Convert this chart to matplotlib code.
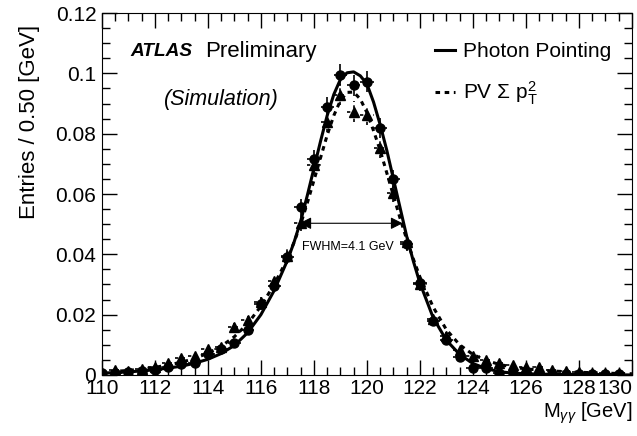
import matplotlib.pyplot as plt
from matplotlib.ticker import MultipleLocator

plt.rcParams['font.family'] = ['Liberation Sans', 'DejaVu Sans']
plt.rcParams['mathtext.fontset'] = 'custom'
plt.rcParams['mathtext.rm'] = 'Liberation Sans'
plt.rcParams['mathtext.it'] = 'Liberation Sans:italic'

# bin centres [GeV]
mass = [110.0, 110.5, 111.0, 111.5, 112.0, 112.5, 113.0, 113.5, 114.0, 114.5,
        115.0, 115.5, 116.0, 116.5, 117.0, 117.5, 118.0, 118.5, 119.0, 119.5,
        120.0, 120.5, 121.0, 121.5, 122.0, 122.5, 123.0, 123.5, 124.0, 124.5,
        125.0, 125.5, 126.0, 126.5, 127.0, 127.5, 128.0, 128.5, 129.0, 129.5]

# Photon Pointing (circles)
pp_vals = [0.0006, 0.0008, 0.0011, 0.0014, 0.0018, 0.0025, 0.0035, 0.0041, 0.0068, 0.0085,
           0.0105, 0.0150, 0.0235, 0.0295, 0.0390, 0.0558, 0.0716, 0.0889, 0.0994, 0.0961,
           0.0972, 0.0818, 0.0650, 0.0435, 0.0304, 0.0178, 0.0116, 0.0060, 0.0022, 0.0022,
           0.0008, 0.0005, 0.0004, 0.0004, 0.0004, 0.0003, 0.0003, 0.0002, 0.0003, 0.0003]
pp_err = [0.0003, 0.0004, 0.0004, 0.0005, 0.0005, 0.0006, 0.0007, 0.0008, 0.0010, 0.0011,
          0.0012, 0.0014, 0.0018, 0.0020, 0.0023, 0.0027, 0.0031, 0.0034, 0.0036, 0.0035,
          0.0035, 0.0033, 0.0029, 0.0024, 0.0020, 0.0016, 0.0012, 0.0009, 0.0006, 0.0006,
          0.0004, 0.0003, 0.0003, 0.0003, 0.0003, 0.0002, 0.0002, 0.0002, 0.0002, 0.0002]

# PV sum pT^2 (triangles)
pv_vals = [0.0008, 0.0017, 0.0014, 0.0019, 0.0028, 0.0039, 0.0055, 0.0063, 0.0085, 0.0094,
           0.0158, 0.0182, 0.0243, 0.0310, 0.0395, 0.0505, 0.0696, 0.0840, 0.0930, 0.0873,
           0.0862, 0.0751, 0.0602, 0.0440, 0.0300, 0.0185, 0.0130, 0.0083, 0.0063, 0.0050,
           0.0040, 0.0033, 0.0025, 0.0025, 0.0017, 0.0012, 0.0010, 0.0008, 0.0008, 0.0006]
pv_err = [0.0004, 0.0005, 0.0005, 0.0005, 0.0006, 0.0007, 0.0008, 0.0009, 0.0011, 0.0011,
          0.0014, 0.0015, 0.0018, 0.0020, 0.0023, 0.0026, 0.0030, 0.0033, 0.0035, 0.0034,
          0.0034, 0.0031, 0.0028, 0.0024, 0.0020, 0.0016, 0.0013, 0.0010, 0.0009, 0.0008,
          0.0007, 0.0006, 0.0005, 0.0005, 0.0004, 0.0004, 0.0003, 0.0003, 0.0003, 0.0003]

# fitted curves
fit_x = [110.0, 111.0, 112.0, 113.0, 113.5, 114.0, 114.5, 115.0, 115.5, 116.0,
         116.5, 117.0, 117.25, 117.5, 117.75, 118.0, 118.25, 118.5, 118.75, 119.0,
         119.25, 119.5, 119.75, 120.0, 120.25, 120.5, 120.75, 121.0, 121.25, 121.5,
         121.75, 122.0, 122.5, 123.0, 123.5, 124.0, 124.5, 125.0, 125.5, 126.0,
         127.0, 128.0, 129.0, 130.0]
pp_fit = [0.0006, 0.0010, 0.0017, 0.0029, 0.0039, 0.0052, 0.0071, 0.0098, 0.0140, 0.0200,
          0.0280, 0.0380, 0.0440, 0.0510, 0.0595, 0.0685, 0.0775, 0.0860, 0.0930, 0.0980,
          0.1002, 0.1005, 0.0992, 0.0965, 0.0905, 0.0830, 0.0745, 0.0650, 0.0555, 0.0460,
          0.0378, 0.0305, 0.0190, 0.0115, 0.0068, 0.0038, 0.0021, 0.0011, 0.0006, 0.0004,
          0.0002, 0.0001, 0.0001, 0.0000]
pv_fit = [0.0009, 0.0015, 0.0025, 0.0042, 0.0055, 0.0072, 0.0095, 0.0127, 0.0170, 0.0228,
          0.0300, 0.0385, 0.0440, 0.0500, 0.0570, 0.0645, 0.0720, 0.0795, 0.0860, 0.0910,
          0.0937, 0.0938, 0.0915, 0.0870, 0.0810, 0.0745, 0.0670, 0.0595, 0.0520, 0.0450,
          0.0385, 0.0325, 0.0225, 0.0150, 0.0100, 0.0068, 0.0048, 0.0035, 0.0026, 0.0020,
          0.0013, 0.0009, 0.0006, 0.0004]

x_ticks = [110, 112, 114, 116, 118, 120, 122, 124, 126, 128, 130]
y_ticks = [0, 0.02, 0.04, 0.06, 0.08, 0.1, 0.12]
y_tick_labels = ['0', '0.02', '0.04', '0.06', '0.08', '0.1', '0.12']

fig = plt.figure(figsize=(6.37, 4.36), dpi=100)
ax = fig.add_axes([0.160, 0.140, 0.832, 0.830])

pv_eb = ax.errorbar(mass, pv_vals, xerr=0.25, yerr=pv_err, fmt='^', color='black',
                    markersize=6.5, elinewidth=1.2, capsize=0)
pv_eb[-1][0].set_linestyle((0, (2, 2)))
pv_eb[-1][1].set_linestyle((0, (2, 2)))
ax.errorbar(mass, pp_vals, xerr=0.25, yerr=pp_err, fmt='o', color='black',
            markersize=6.5, elinewidth=1.2, capsize=0)

pv_line, = ax.plot(fit_x, pv_fit, color='black', lw=2.2, linestyle=(0, (1.5, 1.5)))
pp_line, = ax.plot(fit_x, pp_fit, color='black', lw=2.2)

# FWHM arrow
ax.annotate('', xy=(117.45, 0.0503), xytext=(121.35, 0.0503),
            arrowprops=dict(arrowstyle='<|-|>', color='black', lw=0.8,
                            mutation_scale=18, shrinkA=0, shrinkB=0))
ax.text(117.55, 0.0425, 'FWHM=4.1 GeV', fontsize=9, va='center')

ax.set_xlim(110, 130)
ax.set_ylim(0, 0.12)
ax.set_xticks(x_ticks)
ax.xaxis.set_minor_locator(MultipleLocator(0.5))
ax.yaxis.set_minor_locator(MultipleLocator(0.005))
ax.set_yticks(y_ticks)
ax.set_yticklabels(y_tick_labels)
ax.tick_params(which='both', direction='in', top=True, right=True, labelsize=15)
ax.tick_params(which='major', length=11, width=1)
ax.tick_params(which='minor', length=5.5, width=1)
ax.tick_params(axis='x', pad=3)
ax.tick_params(axis='y', pad=4)
ax.xaxis.get_major_ticks()[-1].label1.set_horizontalalignment('right')

ax.set_ylabel('Entries / 0.50 [GeV]', fontsize=16)
ax.yaxis.set_label_coords(-0.117, 0.70)
ax.set_xlabel(r'M$_{\gamma\gamma}$ [GeV]', fontsize=14.5)
ax.xaxis.set_label_coords(1.0, -0.105)
ax.xaxis.label.set_horizontalalignment('right')
ax.xaxis.label.set_verticalalignment('center')

ax.text(0.053, 0.895, 'ATLAS', transform=ax.transAxes, fontsize=13.7,
        fontweight='bold', style='italic', va='center')
ax.text(0.195, 0.895, 'Preliminary', transform=ax.transAxes, fontsize=16, va='center')
ax.text(0.118, 0.76, '(Simulation)', transform=ax.transAxes, fontsize=15.5,
        style='italic', va='center')

ax.legend([pp_line, pv_line],
          ['Photon Pointing', r'PV $\Sigma$ p$_{\mathrm{T}}^{2}$'],
          loc='upper left', bbox_to_anchor=(0.628, 0.92), frameon=False,
          borderaxespad=0, borderpad=0,
          fontsize=15, handlelength=0.95, handletextpad=0.4, labelspacing=0.9)

fig.savefig('out.png', dpi=100)
